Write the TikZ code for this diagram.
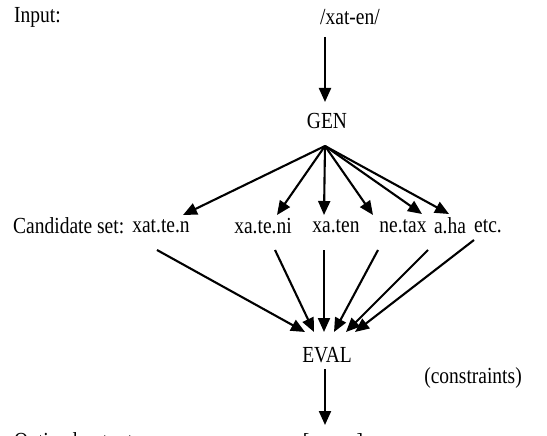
\documentclass[tikz,border=0pt]{standalone}
\usepackage{fontspec}
\setmainfont{Liberation Serif}
\usetikzlibrary{arrows.meta}
\newcommand\stretchtxt[1]{\scalebox{1}[1.18]{#1}}
\tikzset{
  lbl/.style={inner sep=0pt, font=\fontsize{19.5}{22}\selectfont},
  arr/.style={line width=2.1pt, -{Triangle[length=14pt,width=12pt]}},
}
\begin{document}
\begin{tikzpicture}[x=1pt,y=-1pt]
\useasboundingbox (0,0) rectangle (547,436);
\node[lbl, anchor=west] (inp) at (14,17) {\stretchtxt{Input:}};
\node[lbl] (src) at (350,17) {\stretchtxt{/xat-en/}};
\node[lbl] (gen) at (327,121) {\stretchtxt{GEN}};
\node[lbl, anchor=west] (cs) at (13,226) {\stretchtxt{Candidate set:}};
\node[lbl] (c1) at (161,226) {\stretchtxt{xat.te.n}};
\node[lbl] (c2) at (263,226) {\stretchtxt{xa.te.ni}};
\node[lbl] (c3) at (336,226) {\stretchtxt{xa.ten}};
\node[lbl] (c4) at (403,226) {\stretchtxt{ne.tax}};
\node[lbl] (c5) at (450,226) {\stretchtxt{a.ha}};
\node[lbl] (etc) at (488,226) {\stretchtxt{etc.}};
\node[lbl] (eval) at (327,355) {\stretchtxt{EVAL}};
\node[lbl] (con) at (473,378) {\stretchtxt{(constraints)}};
\node[lbl, anchor=west] (opt) at (14,443) {\stretchtxt{Optimal output}};
\node[lbl] (out) at (333,443) {\stretchtxt{[xa.ten]}};
% coordinates
\coordinate (s0) at (325,37);
\coordinate (e0) at (325,102);
\coordinate (g) at (325,146);
\coordinate (t1) at (183,215);
\coordinate (t2) at (277,215);
\coordinate (t3) at (324,215);
\coordinate (t4) at (373,215);
\coordinate (t5) at (422,214);
\coordinate (t6) at (449,214);
\coordinate (b1) at (157,250);
\coordinate (b2) at (275,250);
\coordinate (b3) at (324,250);
\coordinate (b4) at (378,250);
\coordinate (b5) at (428,250);
\coordinate (b6) at (474,240);
\coordinate (v1) at (305,332);
\coordinate (v2) at (314,332);
\coordinate (v3) at (324,332);
\coordinate (v4) at (334,332);
\coordinate (v5) at (346,332);
\coordinate (v6) at (355,332);
\coordinate (os) at (325,369);
\coordinate (oe) at (325,425);
\draw[arr] (s0) -- (e0);
\foreach \i in {1,...,6} \draw[arr] (g) -- (t\i);
\foreach \i in {1,...,6} \draw[arr] (b\i) -- (v\i);
\draw[arr] (os) -- (oe);
\end{tikzpicture}
\end{document}
